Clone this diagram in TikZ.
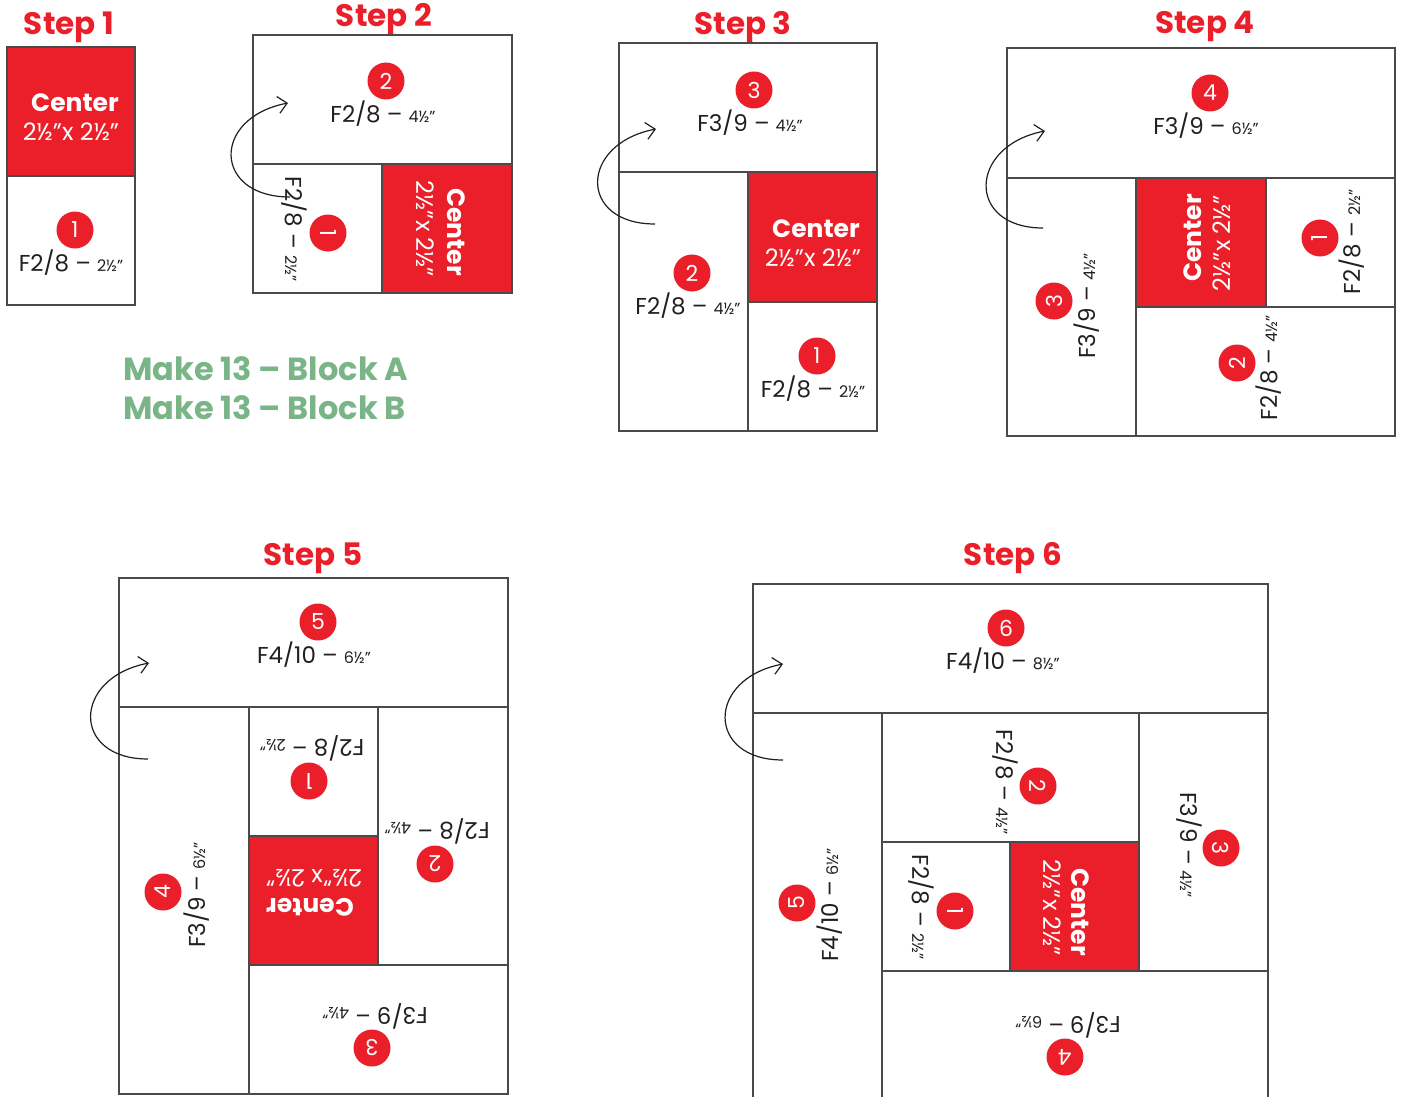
\documentclass[tikz,border=0pt]{standalone}
\usepackage{fontspec}
\setmainfont{Poppins}
\usetikzlibrary{arrows.meta}
\definecolor{qred}{HTML}{EA1F29}
\definecolor{ink}{HTML}{231F20}
\definecolor{edgegray}{HTML}{4A4A4A}
\definecolor{qgreen}{HTML}{7AB588}
\newcommand{\lbl}[2]{#1 – {\fontsize{16}{16}\selectfont #2}}
\tikzset{
  patch/.style={draw=edgegray, line width=1.2pt, fill=white},
  redpatch/.style={draw=edgegray, line width=1.2pt, fill=qred},
  num/.style={circle, fill=qred, text=white, inner sep=0pt, minimum size=37pt, font=\fontsize{22}{22}\selectfont},
  lab/.style={text=ink, inner sep=0pt, font=\fontsize{23}{23}\selectfont},
  cname/.style={text=white, inner sep=0pt, font=\fontsize{25}{25}\selectfont\bfseries},
  cdim/.style={text=white, inner sep=0pt, font=\fontsize{24}{24}\selectfont},
  title/.style={text=qred, inner sep=0pt, anchor=base, font=\fontsize{31}{31}\selectfont\bfseries},
  make/.style={text=qgreen, inner sep=0pt, anchor=base west, font=\fontsize{32}{32}\selectfont\bfseries},
  fold/.style={draw=ink, line width=1.2pt, -{Straight Barb[length=9pt,width=17pt]}},
}
\begin{document}
\begin{tikzpicture}[x=1pt,y=-1pt]
\useasboundingbox[fill=white] (0,0) rectangle (1401,1097);

% ---------- Step 1
\node[title] (t1) at (69,35) {Step 1};
\path[redpatch] (7,47) rectangle (135,176);
\path[patch] (7,176) rectangle (135,305);
\node[cname] (s1cn) at (75,103) {Center};
\node[cdim] (s1cd) at (71,132) {2½"x 2½"};
\node[num] (s1n1) at (75,230) {1};
\node[lab] (s1l1) at (71,263) {\lbl{F2/8}{2½"}};

% ---------- Step 2
\node[title] (t2) at (384,27) {Step 2};
\path[patch] (253,35) rectangle (512,164);
\path[patch] (253,164) rectangle (382,293);
\path[redpatch] (382,164) rectangle (512,293);
\node[num] (s2n2) at (386,81) {2};
\node[lab] (s2l2) at (383,114) {\lbl{F2/8}{4½"}};
\node[lab, rotate=-90] (s2l1) at (294,229) {\lbl{F2/8}{2½"}};
\node[num, rotate=-90] (s2n1) at (328,233) {1};
\node[cname, rotate=-90] (s2cn) at (456,232) {Center};
\node[cdim, rotate=-90] (s2cd) at (425,229) {2½"x 2½"};
\coordinate (s2a) at (290,197);
\coordinate (s2b) at (288,103);
\draw[fold] (s2a) .. controls +(-77,0) and +(-77,15) .. (s2b);

% ---------- Step 3
\node[title] (t3) at (743,35) {Step 3};
\path[patch] (619,43) rectangle (877,172);
\path[patch] (619,172) rectangle (748,431);
\path[redpatch] (748,172) rectangle (877,302);
\path[patch] (748,302) rectangle (877,431);
\node[num] (s3n3) at (754,90) {3};
\node[lab] (s3l3) at (750,123) {\lbl{F3/9}{4½"}};
\node[num] (s3n2) at (692,273) {2};
\node[lab] (s3l2) at (688,306) {\lbl{F2/8}{4½"}};
\node[cname] (s3cn) at (816,229) {Center};
\node[cdim] (s3cd) at (813,258) {2½"x 2½"};
\node[num] (s3n1) at (817,356) {1};
\node[lab] (s3l1) at (813,389) {\lbl{F2/8}{2½"}};
\coordinate (s3a) at (655,224);
\coordinate (s3b) at (656,129);
\draw[fold] (s3a) .. controls +(-77,0) and +(-77,15) .. (s3b);

% ---------- Step 4
\node[title] (t4) at (1205,34) {Step 4};
\path[patch] (1007,48) rectangle (1395,178);
\path[patch] (1007,178) rectangle (1136,436);
\path[redpatch] (1136,178) rectangle (1266,307);
\path[patch] (1266,178) rectangle (1395,307);
\path[patch] (1136,307) rectangle (1395,436);
\node[num] (s4n4) at (1210,93) {4};
\node[lab] (s4l4) at (1206,126) {\lbl{F3/9}{6½"}};
\node[num, rotate=90] (s4n3) at (1054,301) {3};
\node[lab, rotate=90] (s4l3) at (1087,306) {\lbl{F3/9}{4½"}};
\node[cname, rotate=90] (s4cn) at (1193,238) {Center};
\node[cdim, rotate=90] (s4cd) at (1222,243) {2½"x 2½"};
\node[num, rotate=90] (s4n1) at (1320,238) {1};
\node[lab, rotate=90] (s4l1) at (1352,242) {\lbl{F2/8}{2½"}};
\node[num, rotate=90] (s4n2) at (1237,363) {2};
\node[lab, rotate=90] (s4l2) at (1269,368) {\lbl{F2/8}{4½"}};
\coordinate (s4a) at (1043,228);
\coordinate (s4b) at (1045,131);
\draw[fold] (s4a) .. controls +(-77,0) and +(-77,15) .. (s4b);

% ---------- Make 13
\node[make] (mka) at (123,380) {Make 13 – Block A};
\node[make] (mkb) at (123,419) {Make 13 – Block B};

% ---------- Step 5
\node[title] (t5) at (313,565) {Step 5};
\path[patch] (119,578) rectangle (508,707);
\path[patch] (119,707) rectangle (249,1094);
\path[patch] (249,707) rectangle (378,836);
\path[redpatch] (249,836) rectangle (378,965);
\path[patch] (378,707) rectangle (508,965);
\path[patch] (249,965) rectangle (508,1094);
\node[num] (s5n5) at (318,622) {5};
\node[lab] (s5l5) at (314,655) {\lbl{F4/10}{6½"}};
\node[lab, rotate=180] (s5l1) at (312,748) {\lbl{F2/8}{2½"}};
\node[num, rotate=180] (s5n1) at (309,781) {1};
\node[cdim, rotate=180] (s5cd) at (314,878) {2½"x 2½"};
\node[cname, rotate=180] (s5cn) at (310,907) {Center};
\node[lab, rotate=180] (s5l2) at (437,831) {\lbl{F2/8}{4½"}};
\node[num, rotate=180] (s5n2) at (435,864) {2};
\node[lab, rotate=180] (s5l3) at (375,1016) {\lbl{F3/9}{4½"}};
\node[num, rotate=180] (s5n3) at (372,1048) {3};
\node[num, rotate=90] (s5n4) at (163,892) {4};
\node[lab, rotate=90] (s5l4) at (197,895) {\lbl{F3/9}{6½"}};
\coordinate (s5a) at (148,759);
\coordinate (s5b) at (149,663);
\draw[fold] (s5a) .. controls +(-77,0) and +(-77,15) .. (s5b);

% ---------- Step 6
\node[title] (t6) at (1013,565) {Step 6};
\path[patch] (753,584) rectangle (1268,713);
\path[patch] (753,713) rectangle (882,1100);
\path[patch] (882,713) rectangle (1139,842);
\path[patch] (882,842) rectangle (1010,971);
\path[redpatch] (1010,842) rectangle (1139,971);
\path[patch] (1139,713) rectangle (1268,971);
\path[patch] (882,971) rectangle (1268,1100);
\node[num] (s6n6) at (1006,628) {6};
\node[lab] (s6l6) at (1003,661) {\lbl{F4/10}{8½"}};
\node[lab, rotate=-90] (s6l2) at (1005,782) {\lbl{F2/8}{4½"}};
\node[num, rotate=-90] (s6n2) at (1038,786) {2};
\node[lab, rotate=-90] (s6l1) at (921,907) {\lbl{F2/8}{2½"}};
\node[num, rotate=-90] (s6n1) at (955,911) {1};
\node[cname, rotate=-90] (s6cn) at (1080,912) {Center};
\node[cdim, rotate=-90] (s6cd) at (1052,908) {2½"x 2½"};
\node[lab, rotate=-90] (s6l3) at (1189,845) {\lbl{F3/9}{4½"}};
\node[num, rotate=-90] (s6n3) at (1221,848) {3};
\node[num, rotate=90] (s6n5) at (797,903) {5};
\node[lab, rotate=90] (s6l5) at (830,905) {\lbl{F4/10}{6½"}};
\node[lab, rotate=180] (s6l4) at (1068,1025) {\lbl{F3/9}{6½"}};
\node[num, rotate=180] (s6n4) at (1065,1057) {4};
\coordinate (s6a) at (783,760);
\coordinate (s6b) at (783,664);
\draw[fold] (s6a) .. controls +(-77,0) and +(-77,15) .. (s6b);
\end{tikzpicture}
\end{document}
